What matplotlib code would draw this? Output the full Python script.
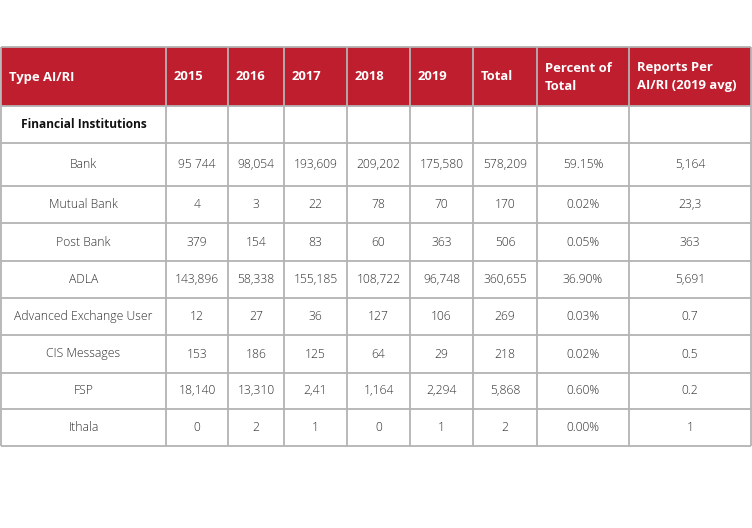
import matplotlib
matplotlib.use("Agg")
from matplotlib import pyplot as plt
from matplotlib.patches import Rectangle

plt.rcParams['font.family'] = ['Open Sans', 'DejaVu Sans']

# table content
headers = ["Type AI/RI", "2015", "2016", "2017", "2018", "2019", "Total",
           "Percent of\nTotal", "Reports Per\nAI/RI (2019 avg)"]
section = "Financial Institutions"
row_names = ["Bank", "Mutual Bank", "Post Bank", "ADLA", "Advanced Exchange User",
             "CIS Messages", "FSP", "Ithala"]
y2015 = ["95 744", "4", "379", "143,896", "12", "153", "18,140", "0"]
y2016 = ["98,054", "3", "154", "58,338", "27", "186", "13,310", "2"]
y2017 = ["193,609", "22", "83", "155,185", "36", "125", "2,41", "1"]
y2018 = ["209,202", "78", "60", "108,722", "127", "64", "1,164", "0"]
y2019 = ["175,580", "70", "363", "96,748", "106", "29", "2,294", "1"]
totals = ["578,209", "170", "506", "360,655", "269", "218", "5,868", "2"]
percent = ["59.15%", "0.02%", "0.05%", "36.90%", "0.03%", "0.02%", "0.60%", "0.00%"]
per_ai = ["5,164", "23,3", "363", "5,691", "0.7", "0.5", "0.2", "1"]

# layout in pixels
col_edges = [1, 166, 228, 284, 347, 410, 473, 537, 629, 751]
row_edges = [47, 106, 143, 186, 223, 261, 298, 335, 373, 409, 446]

red = "#BE1E2D"
grid = "#B3B3B3"
body = "#2E2E2E"

fig = plt.figure(figsize=(7.52, 5.28), dpi=100)
ax = fig.add_axes([0, 0, 1, 1])
ax.set_xlim(0, 752)
ax.set_ylim(528, 0)
ax.axis("off")

# header background
ax.add_patch(Rectangle((col_edges[0], row_edges[0]), col_edges[-1] - col_edges[0],
                       row_edges[1] - row_edges[0], color=red, lw=0))

# header text
hy = (row_edges[0] + row_edges[1]) / 2 + 0.5
for i, h in enumerate(headers):
    ax.text(col_edges[i] + 8, hy, h, color="white", fontsize=9.4, fontweight="bold",
            ha="left", va="center", linespacing=1.5)

# section row
sy = (row_edges[1] + row_edges[2]) / 2
ax.text((col_edges[0] + col_edges[1]) / 2, sy, section, color="#111111",
        fontsize=8.6, fontweight="bold", ha="center", va="center")

# data rows
columns = [row_names, y2015, y2016, y2017, y2018, y2019, totals, percent, per_ai]
for r in range(len(row_names)):
    cy = (row_edges[r + 2] + row_edges[r + 3]) / 2
    for c, col in enumerate(columns):
        cx = (col_edges[c] + col_edges[c + 1]) / 2
        ax.text(cx, cy, col[r], color=body, fontsize=8.7, fontweight="light",
                ha="center", va="center")

# grid lines
for x in col_edges:
    ax.plot([x, x], [row_edges[0], row_edges[-1]], color=grid, lw=1.3,
            solid_capstyle="butt", zorder=3)
for y in row_edges:
    ax.plot([col_edges[0], col_edges[-1]], [y, y], color=grid, lw=1.3,
            solid_capstyle="butt", zorder=3)

fig.savefig("out.png", dpi=100, facecolor="white")
